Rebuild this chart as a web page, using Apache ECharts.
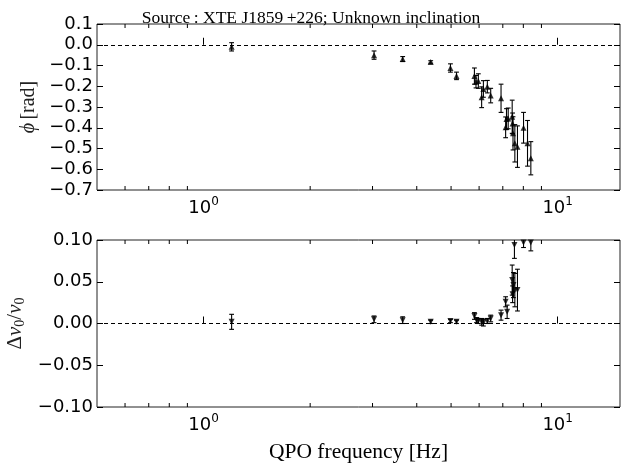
<!DOCTYPE html>
<html><head><meta charset="utf-8">
<script src="https://cdn.jsdelivr.net/npm/echarts@6/dist/echarts.min.js"></script>
<style>html,body{margin:0;padding:0;background:#fff}#c{width:622px;height:466px}</style>
</head><body><div id="c"></div>
<script>
// ---- data ----
const phiFreq = [1.20, 3.03, 3.65, 4.38, 4.98, 5.18, 5.82, 5.88, 5.97, 6.10, 6.17, 6.33, 6.47, 6.92, 7.13, 7.17, 7.25, 7.44, 7.46, 7.48, 7.57, 7.70, 8.01, 8.22, 8.40];
const phiVal  = [-0.010, -0.050, -0.069, -0.083, -0.112, -0.150, -0.151, -0.178, -0.175, -0.253, -0.213, -0.202, -0.245, -0.258, -0.398, -0.358, -0.355, -0.347, -0.379, -0.427, -0.475, -0.491, -0.400, -0.475, -0.547];
const phiErr  = [0.020, 0.020, 0.012, 0.006, 0.020, 0.018, 0.039, 0.030, 0.035, 0.050, 0.040, 0.030, 0.035, 0.068, 0.050, 0.050, 0.050, 0.080, 0.050, 0.080, 0.090, 0.100, 0.074, 0.110, 0.080];

const nuFreq = [1.20, 3.03, 3.65, 4.38, 4.98, 5.18, 5.82, 5.90, 5.97, 6.10, 6.17, 6.33, 6.47, 6.92, 7.13, 7.20, 7.44, 7.46, 7.50, 7.57, 7.70, 7.55, 8.01, 8.40];
const nuVal  = [0.002, 0.005, 0.004, 0.002, 0.003, 0.002, 0.009, 0.004, 0.003, 0.002, 0.001, 0.003, 0.006, 0.010, 0.026, 0.014, 0.052, 0.035, 0.046, 0.040, 0.040, 0.094, 0.097, 0.097];
const nuErr  = [0.009, 0.004, 0.004, 0.002, 0.002, 0.002, 0.004, 0.003, 0.003, 0.004, 0.004, 0.003, 0.004, 0.006, 0.006, 0.008, 0.018, 0.010, 0.015, 0.020, 0.025, 0.016, 0.006, 0.010];

const minorTicks = [0.6, 0.7, 0.8, 0.9, 2, 3, 4, 5, 6, 7, 8, 9];
const xMin = 0.5, xMax = 15;
const titleText = 'Source\u2009: XTE J1859\u2009+226; Unknown inclination';

// ---- build ----
const minus = s => s.replace('-', '\u2212');
const sans = 'DejaVu Sans';
const serif = 'Liberation Serif';

function errData(f, v, e) { return f.map((x, i) => [x, v[i], e[i]]); }
function ptData(f, v) { return f.map((x, i) => [x, v[i]]); }

function errRender(params, api) {
  const x = api.value(0), y = api.value(1), e = api.value(2);
  const lo = api.coord([x, y - e]), hi = api.coord([x, y + e]);
  const cw = 2.4;
  const st = { stroke: '#000', lineWidth: 1.1 };
  return { type: 'group', children: [
    { type: 'line', shape: { x1: lo[0], y1: lo[1], x2: hi[0], y2: hi[1] }, style: st },
    { type: 'line', shape: { x1: lo[0] - cw, y1: lo[1], x2: lo[0] + cw, y2: lo[1] }, style: st },
    { type: 'line', shape: { x1: hi[0] - cw, y1: hi[1], x2: hi[0] + cw, y2: hi[1] }, style: st }
  ]};
}

function tickRender(params, api) {
  const cs = params.coordSys;
  const x = api.coord([api.value(0), api.value(1)])[0];
  const len = 4;
  const st = { stroke: '#000', lineWidth: 1 };
  return { type: 'group', children: [
    { type: 'line', shape: { x1: x, y1: cs.y + cs.height, x2: x, y2: cs.y + cs.height - len }, style: st },
    { type: 'line', shape: { x1: x, y1: cs.y, x2: x, y2: cs.y + len }, style: st }
  ]};
}

const xLabelRich = {
  b: { fontFamily: sans, fontSize: 18, color: '#000' },
  s: { fontFamily: sans, fontSize: 12, color: '#000', padding: [0, 0, 12, 0] }
};

function xAxisCfg(idx) {
  return {
    type: 'log', logBase: 10, gridIndex: idx, min: xMin, max: xMax,
    axisLine: { show: false },
    axisTick: { show: true, inside: true, length: 7, lineStyle: { color: '#000' } },
    splitLine: { show: false },
    axisLabel: {
      margin: 6, showMinLabel: false, showMaxLabel: false,
      formatter: v => {
        const ex = Math.round(Math.log10(v));
        return '{b|10}{s|' + ex + '}';
      },
      rich: xLabelRich
    }
  };
}

function yAxisCfg(idx, min, max, interval, digits, name, rich) {
  return {
    type: 'value', gridIndex: idx, min, max, interval,
    axisLine: { show: false },
    axisTick: { show: true, inside: true, length: 6, lineStyle: { color: '#000' } },
    splitLine: { show: false },
    axisLabel: { fontFamily: sans, fontSize: 18, color: '#000', margin: 4,
      formatter: v => minus(Number(v).toFixed(digits)) },
    name, nameLocation: 'middle', nameRotate: 90, nameGap: 0,
    nameTextStyle: { rich }
  };
}
function yRightCfg(idx, min, max, interval) {
  return {
    type: 'value', gridIndex: idx, min, max, interval, position: 'right',
    axisLine: { show: false }, axisLabel: { show: false }, splitLine: { show: false },
    axisTick: { show: true, inside: true, length: 6, lineStyle: { color: '#000' } }
  };
}

const zeroLine = {
  silent: true, symbol: ['none', 'none'],
  lineStyle: { color: '#000', type: [4, 3], width: 1 },
  label: { show: false },
  data: [{ yAxis: 0 }]
};

const chart = echarts.init(document.getElementById('c'), null, { renderer: 'canvas' });
const yA = yAxisCfg(0, -0.7, 0.1, 0.1, 1, '{i|\u03d5} {n|[rad]}', {
  i: { fontFamily: serif, fontStyle: 'italic', fontSize: 20, color: '#222' },
  n: { fontFamily: serif, fontSize: 20, color: '#222' }
});
yA.nameGap = 58;
const yB = yAxisCfg(1, -0.1, 0.1, 0.05, 2, '{n|\u0394}{i|\u03bd}{sub|0}{n|/}{i|\u03bd}{sub|0}', {
  i: { fontFamily: serif, fontStyle: 'italic', fontSize: 21, color: '#222' },
  n: { fontFamily: serif, fontSize: 21, color: '#222' },
  sub: { fontFamily: serif, fontSize: 14, color: '#222', padding: [9, 0, 0, 0] }
});
yB.nameGap = 70;

chart.setOption({
  animation: false,
  backgroundColor: '#fff',
  title: { text: titleText, left: 'center', top: 4,
    textStyle: { fontFamily: serif, fontSize: 17.5, fontWeight: 'normal', color: '#000' } },
  grid: [
    { left: 97, top: 24, width: 523, height: 166, show: true, borderColor: '#222', borderWidth: 1, backgroundColor: 'transparent', outerBoundsMode: 'none', containLabel: false },
    { left: 97, top: 240, width: 523, height: 167, show: true, borderColor: '#222', borderWidth: 1, backgroundColor: 'transparent', outerBoundsMode: 'none', containLabel: false }
  ],
  xAxis: [ xAxisCfg(0), Object.assign(xAxisCfg(1), {
    name: 'QPO frequency [Hz]', nameLocation: 'middle', nameGap: 34,
    nameTextStyle: { fontFamily: serif, fontSize: 21.5, color: '#000' } }) ],
  yAxis: [ yA, yB, yRightCfg(0, -0.7, 0.1, 0.1), yRightCfg(1, -0.1, 0.1, 0.05) ],
  series: [
    { type: 'custom', xAxisIndex: 0, yAxisIndex: 0, renderItem: tickRender, data: minorTicks.map(v => [v, 0]), silent: true, clip: false },
    { type: 'custom', xAxisIndex: 1, yAxisIndex: 1, renderItem: tickRender, data: minorTicks.map(v => [v, 0]), silent: true, clip: false },
    { type: 'line', xAxisIndex: 0, yAxisIndex: 0, data: [], markLine: zeroLine },
    { type: 'line', xAxisIndex: 1, yAxisIndex: 1, data: [], markLine: zeroLine },
    { type: 'custom', xAxisIndex: 0, yAxisIndex: 0, renderItem: errRender, data: errData(phiFreq, phiVal, phiErr), clip: true, silent: true },
    { type: 'custom', xAxisIndex: 1, yAxisIndex: 1, renderItem: errRender, data: errData(nuFreq, nuVal, nuErr), clip: true, silent: true },
    { type: 'scatter', xAxisIndex: 0, yAxisIndex: 0, symbol: 'triangle', symbolSize: 6,
      itemStyle: { color: '#000' }, data: ptData(phiFreq, phiVal), silent: true },
    { type: 'scatter', xAxisIndex: 1, yAxisIndex: 1, symbol: 'triangle', symbolRotate: 180, symbolSize: 6,
      itemStyle: { color: '#000' }, data: ptData(nuFreq, nuVal), silent: true }
  ]
});
</script></body></html>
